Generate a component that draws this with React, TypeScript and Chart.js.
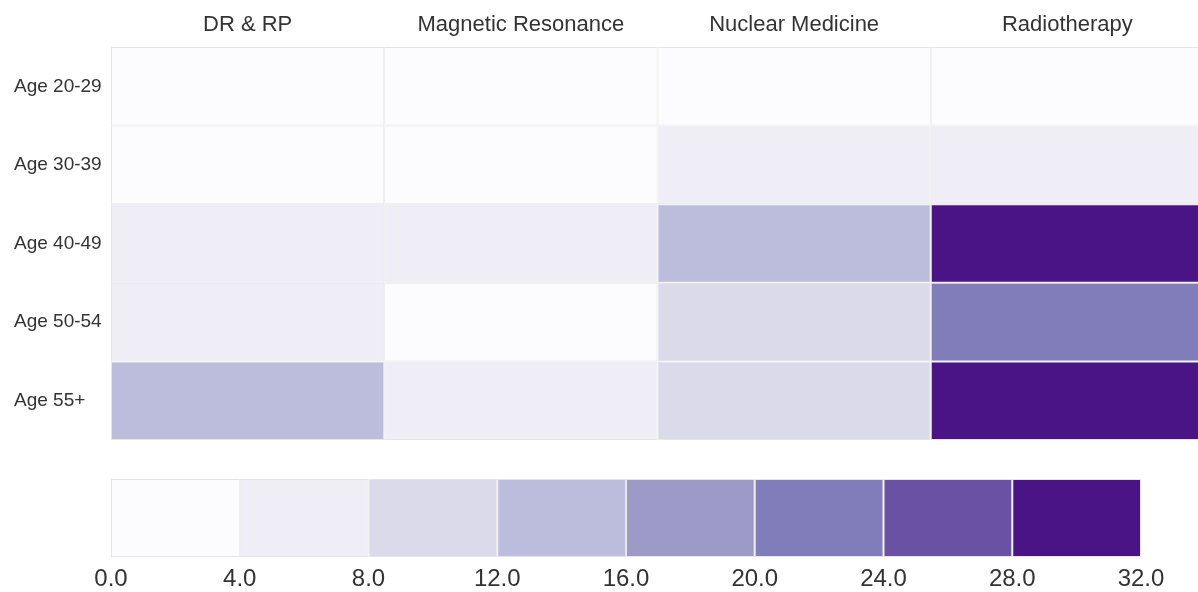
import React, { useEffect, useRef } from 'react';
import { Chart, registerables } from 'chart.js';

Chart.register(...registerables);

// ---- data ----
const columns = ['DR & RP', 'Magnetic Resonance', 'Nuclear Medicine', 'Radiotherapy'];
const rows = ['Age 20-29', 'Age 30-39', 'Age 40-49', 'Age 50-54', 'Age 55+'];
const drRp = [1, 2, 5, 6, 13];
const magneticResonance = [2, 3, 6, 3, 5];
const nuclearMedicine = [3, 5, 14, 10, 9];
const radiotherapy = [2, 6, 30, 22, 31];
const binEdges = [0, 4, 8, 12, 16, 20, 24, 28, 32];
const palette = ['#fcfbfd', '#efedf5', '#dadaeb', '#bcbddc', '#9e9ac8', '#807dba', '#6a51a3', '#4a1486'];

const seriesByColumn = [drRp, magneticResonance, nuclearMedicine, radiotherapy];

const FONT = "'Liberation Sans', Arial, sans-serif";
const TEXT = '#333333';

function colorFor(v: number): string {
  for (let i = 0; i < palette.length; i++) {
    if (v < binEdges[i + 1]) return palette[i];
  }
  return palette[palette.length - 1];
}

const HEAT_W = 1214;
const HEAT_H = 450;
const BAR_W = 1198;
const BAR_H = 132;

export default function App() {
  const heatRef = useRef<HTMLCanvasElement | null>(null);
  const barRef = useRef<HTMLCanvasElement | null>(null);

  useEffect(() => {
    const heat = new Chart(heatRef.current as HTMLCanvasElement, {
      type: 'bar',
      data: {
        labels: columns,
        datasets: rows.map((r, ri) => ({
          label: r,
          data: columns.map(() => [ri, ri + 1]) as any,
          backgroundColor: seriesByColumn.map((s) => colorFor(s[ri])),
          borderColor: '#e6e6e6',
          borderWidth: 1,
          borderSkipped: false,
          grouped: false,
          barPercentage: 1,
          categoryPercentage: 1,
          inflateAmount: 0,
        })),
      },
      options: {
        animation: false,
        responsive: false,
        events: [],
        layout: { padding: { left: 14, top: 0, right: HEAT_W - 1204, bottom: HEAT_H - 440 } },
        plugins: { legend: { display: false }, tooltip: { enabled: false } },
        scales: {
          x: {
            type: 'category',
            position: 'top',
            grid: { display: false, drawTicks: false },
            border: { display: false },
            ticks: { font: { family: FONT, size: 22 }, color: TEXT, padding: 9, maxRotation: 0 },
            afterFit: (s: any) => {
              s.height = 47;
              s.paddingLeft = 0;
              s.paddingRight = 0;
            },
          },
          y: {
            type: 'linear',
            min: 0,
            max: 5,
            reverse: true,
            grid: { display: false, drawTicks: false },
            border: { display: false },
            afterBuildTicks: (s: any) => {
              s.ticks = rows.map((_, i) => ({ value: i + 0.5 }));
            },
            ticks: {
              autoSkip: false,
              crossAlign: 'far',
              font: { family: FONT, size: 19 },
              color: TEXT,
              callback: (_v: any, i: number) => rows[i],
            },
            afterFit: (s: any) => {
              s.width = 97;
              s.paddingTop = 0;
              s.paddingBottom = 0;
            },
          },
        },
      },
    });

    const bar = new Chart(barRef.current as HTMLCanvasElement, {
      type: 'bar',
      data: {
        labels: ['scale'],
        datasets: palette.map((c, i) => ({
          label: String(binEdges[i]),
          data: [[binEdges[i], binEdges[i + 1]]] as any,
          backgroundColor: c,
          borderColor: '#e6e6e6',
          borderWidth: 1,
          borderSkipped: false,
          grouped: false,
          barPercentage: 1,
          categoryPercentage: 1,
          inflateAmount: 0,
        })),
      },
      options: {
        indexAxis: 'y',
        animation: false,
        responsive: false,
        events: [],
        layout: { padding: { left: 111, right: BAR_W - 1141, top: 19, bottom: 0 } },
        plugins: { legend: { display: false }, tooltip: { enabled: false } },
        scales: {
          x: {
            type: 'linear',
            min: binEdges[0],
            max: binEdges[binEdges.length - 1],
            grid: { display: false, drawTicks: false },
            border: { display: false },
            ticks: {
              stepSize: 4,
              font: { family: FONT, size: 24 },
              color: TEXT,
              padding: 8,
              maxRotation: 0,
              callback: (v: any) => Number(v).toFixed(1),
            },
            afterFit: (s: any) => {
              s.height = 35;
              s.paddingLeft = 0;
              s.paddingRight = 0;
            },
          },
          y: { display: false },
        },
      },
    });

    return () => {
      heat.destroy();
      bar.destroy();
    };
  }, []);

  return (
    <div
      style={{
        position: 'fixed',
        left: 0,
        top: 0,
        width: 1198,
        height: 592,
        overflow: 'hidden',
        background: '#ffffff',
      }}
    >
      <canvas
        ref={heatRef}
        width={HEAT_W}
        height={HEAT_H}
        style={{ position: 'absolute', left: 0, top: 0, width: HEAT_W, height: HEAT_H }}
      />
      <canvas
        ref={barRef}
        width={BAR_W}
        height={BAR_H}
        style={{ position: 'absolute', left: 0, top: 460, width: BAR_W, height: BAR_H }}
      />
    </div>
  );
}
